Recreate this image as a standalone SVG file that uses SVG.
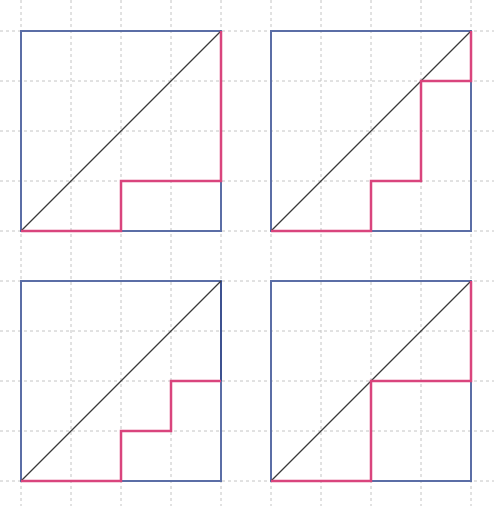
<svg xmlns="http://www.w3.org/2000/svg" width="494" height="506" viewBox="0 0 494 506">
<style>
.grid line{stroke:#c4c4c4;stroke-width:1;stroke-dasharray:3 3}
.sq{fill:none;stroke:#5b6ea6;stroke-width:2}
.diag{stroke:#3a3a3a;stroke-width:1.2}
.path{fill:none;stroke:#d9457d;stroke-width:2.5;stroke-linejoin:miter}
</style>
<rect width="494" height="506" fill="#ffffff"/>
<g class="grid">
<line x1="21" y1="0" x2="21" y2="506"/>
<line x1="71" y1="0" x2="71" y2="506"/>
<line x1="121" y1="0" x2="121" y2="506"/>
<line x1="171" y1="0" x2="171" y2="506"/>
<line x1="221" y1="0" x2="221" y2="506"/>
<line x1="271" y1="0" x2="271" y2="506"/>
<line x1="321" y1="0" x2="321" y2="506"/>
<line x1="371" y1="0" x2="371" y2="506"/>
<line x1="421" y1="0" x2="421" y2="506"/>
<line x1="471" y1="0" x2="471" y2="506"/>
<line x1="0" y1="31" x2="494" y2="31"/>
<line x1="0" y1="81" x2="494" y2="81"/>
<line x1="0" y1="131" x2="494" y2="131"/>
<line x1="0" y1="181" x2="494" y2="181"/>
<line x1="0" y1="231" x2="494" y2="231"/>
<line x1="0" y1="281" x2="494" y2="281"/>
<line x1="0" y1="331" x2="494" y2="331"/>
<line x1="0" y1="381" x2="494" y2="381"/>
<line x1="0" y1="431" x2="494" y2="431"/>
<line x1="0" y1="481" x2="494" y2="481"/>
</g>
<g id="fig1">
<rect class="sq" x="21" y="31" width="200" height="200"/>
<line class="diag" x1="21" y1="231" x2="221" y2="31"/>
<polyline class="path" points="21,231 121,231 121,181 221,181 221,31"/>
</g>
<g id="fig2">
<rect class="sq" x="271" y="31" width="200" height="200"/>
<line class="diag" x1="271" y1="231" x2="471" y2="31"/>
<polyline class="path" points="271,231 371,231 371,181 421,181 421,81 471,81 471,31"/>
</g>
<g id="fig3">
<rect class="sq" x="21" y="281" width="200" height="200"/>
<line x1="221" y1="281" x2="221" y2="381" stroke="#3d5190" stroke-width="2"/>
<line class="diag" x1="21" y1="481" x2="221" y2="281"/>
<polyline class="path" points="21,481 121,481 121,431 171,431 171,381 221,381"/>
</g>
<g id="fig4">
<rect class="sq" x="271" y="281" width="200" height="200"/>
<line class="diag" x1="271" y1="481" x2="471" y2="281"/>
<polyline class="path" points="271,481 371,481 371,381 471,381 471,281"/>
</g>
</svg>
